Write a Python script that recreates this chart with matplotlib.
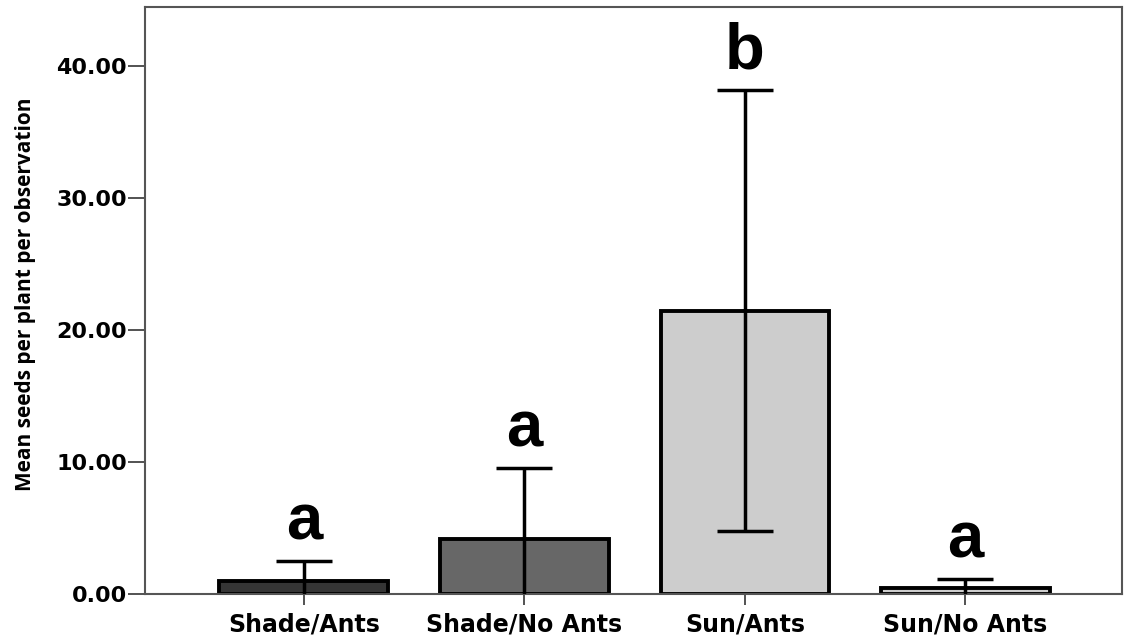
import matplotlib
matplotlib.use("Agg")
import matplotlib.pyplot as plt
from matplotlib import font_manager as fm

categories = ["Shade/Ants", "Shade/No Ants", "Sun/Ants", "Sun/No Ants"]
means = [0.98, 4.17, 21.46, 0.45]
ci_half = [1.52, 5.38, 16.72, 0.69]
letters = ["a", "a", "b", "a"]
yticks = [0, 10, 20, 30, 40]
ytick_labels = ["0.00", "10.00", "20.00", "30.00", "40.00"]
bar_colors = ["#353535", "#676767", "#cdcdcd", "#cdcdcd"]
ylabel = "Mean seeds per plant per observation"

names = {f.name for f in fm.fontManager.ttflist}
narrow = "Liberation Sans Narrow" if "Liberation Sans Narrow" in names else "Open Sans"

fig = plt.figure(figsize=(11.25, 6.36), dpi=100)
ax = fig.add_axes([0.1289, 0.066, 0.8684, 0.923])

x = list(range(len(categories)))
ax.bar(x, means, width=0.765, color=bar_colors, edgecolor="black", linewidth=2.8, zorder=2)
ax.errorbar(x, means, yerr=ci_half, fmt="none", ecolor="black", elinewidth=2.5,
            capsize=20, capthick=2.5, zorder=3)

for xi, m, e, l in zip(x, means, ci_half, letters):
    ax.text(xi, m + e + 1.65, l, ha="center", va="baseline",
            fontsize=47, fontweight="bold", family="Liberation Sans")

ax.set_xlim(-0.72, 3.71)
ax.set_ylim(0, 44.47)
ax.set_yticks(yticks)
ax.set_yticklabels(ytick_labels, fontsize=16, fontweight="bold", family="DejaVu Sans")
ax.set_xticks(x)
ax.set_xticklabels(categories, fontsize=17, fontweight="bold", family="DejaVu Sans")
ax.tick_params(axis="y", length=12, width=1.3, color="#444444", pad=1)
ax.tick_params(axis="x", length=8, width=1.3, color="#444444", pad=5)
for s in ax.spines.values():
    s.set_color("#555555")
    s.set_linewidth(1.5)

ax.set_ylabel(ylabel, fontsize=15, fontweight="bold", family=[narrow, "DejaVu Sans"], labelpad=0)
ax.yaxis.set_label_coords(-0.112, 0.51)

fig.savefig("out.png", dpi=100)
